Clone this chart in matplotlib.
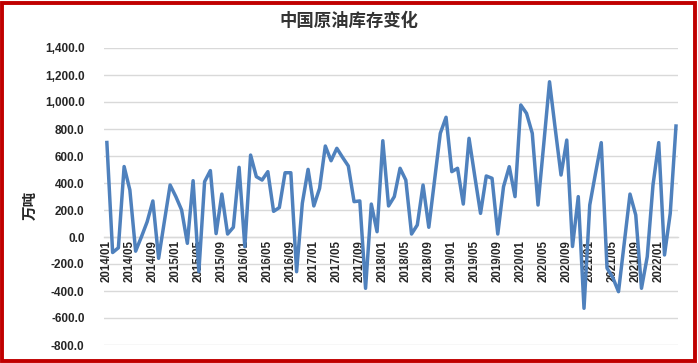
import matplotlib
matplotlib.use('Agg')
import matplotlib.pyplot as plt
from matplotlib.patches import Rectangle
from matplotlib.ticker import FuncFormatter, FixedLocator

# ---- data ----
months = [f"{y}/{m:02d}" for y in range(2014, 2023) for m in range(1, 13)][:100]
values = [700, -115, -80, 522, 348, -105, 0, 112, 267, -158,
          115, 385, 299, 200, -47, 417, -257, 410, 492, 25,
          318, 22, 72, 516, -72, 607, 447, 422, 484, 190,
          218, 476, 476, -257, 250, 501, 230, 360, 674, 565,
          657, 590, 526, 262, 267, -380, 244, 39, 713, 230,
          299, 509, 422, 22, 89, 385, 72, 420, 768, 887,
          484, 509, 244, 731, 450, 175, 452, 435, 22, 373,
          521, 299, 978, 916, 768, 237, 690, 1150, 800, 459,
          718, -70, 299, -528, 237, 472, 699, -230, -300, -405,
          -45, 318, 163, -380, -146, 385, 699, -133, 175, 822]
title = "中国原油库存变化"
ylabel = "万吨"
yticks = [-800, -600, -400, -200, 0, 200, 400, 600, 800, 1000, 1200, 1400]

plt.rcParams['font.family'] = ['Liberation Sans', 'Noto Sans CJK SC', 'DejaVu Sans']

W, H = 698, 363
fig = plt.figure(figsize=(W / 100, H / 100), dpi=100)
ax = fig.add_axes([104 / W, 1 - 345 / H, (678 - 104) / W, (345 - 48) / H])

x = list(range(len(values)))
ax.plot(x, values, color='#4F81BD', linewidth=2.5, solid_joinstyle='round', zorder=3)

ax.set_ylim(-800, 1400)
ax.set_xlim(-0.5, len(values) - 0.65)
ax.set_yticks(yticks)
ax.yaxis.set_major_formatter(FuncFormatter(lambda v, p: f"{v:,.1f}"))
ax.grid(axis='y', color='#D9D9D9', linewidth=1.0, zorder=0)
ax.set_axisbelow(True)

for s in ['left', 'right', 'top']:
    ax.spines[s].set_visible(False)
ax.spines['bottom'].set_position(('data', 0))
ax.spines['bottom'].set_color('#D9D9D9')
ax.spines['bottom'].set_linewidth(1.0)

tick_idx = list(range(0, len(values), 4))
ax.xaxis.set_major_locator(FixedLocator(tick_idx))
ax.set_xticklabels([months[i] for i in tick_idx], rotation=90, fontsize=8.3,
                   fontweight='bold', color='#262626')
ax.tick_params(axis='x', length=0, pad=2)
ax.tick_params(axis='y', length=0, pad=14, labelsize=8.5, labelcolor='#262626')
for lab in ax.get_yticklabels():
    lab.set_fontweight('bold')

fig.text(30 / W, 1 - 205 / H, ylabel, rotation=90, ha='center', va='center',
         fontsize=10.5, fontweight='bold', color='#262626',
         family=['Noto Sans CJK SC', 'DejaVu Sans'])
fig.text(349 / W, 1 - 21 / H, title, ha='center', va='center', fontsize=12.5,
         fontweight='bold', color='#333333',
         family=['Noto Sans CJK SC', 'DejaVu Sans'])

fig.patches.append(Rectangle((2 / W, 2 / H), 1 - 5 / W, 1 - 5 / H,
                             transform=fig.transFigure, fill=False,
                             edgecolor='#C00000', linewidth=2.8))

fig.savefig('out.png', dpi=100)
